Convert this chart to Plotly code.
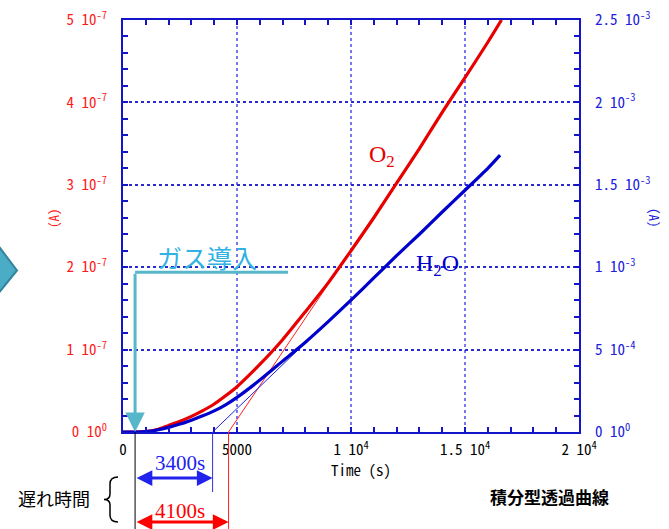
import plotly.graph_objects as go

# ---------------- data ----------------
time_o2 = [0, 500, 1000, 1500, 2000, 2500, 3000, 3500, 4000, 4500, 5000, 6000, 7000,
           8000, 9000, 10000, 11000, 12000, 13000, 14000, 15000, 16000, 16600]
o2_current = [0, 0, 0.005e-7, 0.03e-7, 0.08e-7, 0.13e-7, 0.19e-7, 0.26e-7, 0.34e-7, 0.44e-7,
              0.55e-7, 0.82e-7, 1.12e-7, 1.46e-7, 1.81e-7, 2.2e-7, 2.6e-7, 3.02e-7, 3.44e-7,
              3.88e-7, 4.3e-7, 4.73e-7, 5.0e-7]

time_h2o = [0, 500, 1000, 1500, 2000, 2500, 3000, 3500, 4000, 4500, 5000, 6000, 7000,
            8000, 9000, 10000, 11000, 12000, 13000, 14000, 15000, 16000, 16540]
h2o_current = [0, 0, 0.002e-3, 0.012e-3, 0.028e-3, 0.048e-3, 0.072e-3, 0.098e-3, 0.128e-3,
               0.165e-3, 0.21e-3, 0.315e-3, 0.43e-3, 0.545e-3, 0.67e-3, 0.80e-3, 0.935e-3,
               1.07e-3, 1.20e-3, 1.335e-3, 1.467e-3, 1.60e-3, 1.68e-3]

# tangent (asymptote) lines
o2_tangent_t = [4630, 10800]
o2_tangent_v = [0, 2.53e-7]
h2o_tangent_t = [3930, 10000]
h2o_tangent_v = [0, 0.807e-3]

t_gas = 530          # gas introduction time (s)
lag_h2o = 3400       # s
lag_o2 = 4100        # s
gas_level = 1.94e-7  # height of the gas-introduction marker (left axis)
gas_end_t = 7240

x_tickvals = [0, 5000, 10000, 15000, 20000]
x_ticktext = ["0", "5000", "1 10<sup>4</sup>", "1.5 10<sup>4</sup>", "2 10<sup>4</sup>"]
y1_tickvals = [0, 1e-7, 2e-7, 3e-7, 4e-7, 5e-7]
y1_ticktext = ["0 10<sup>0</sup>", "1 10<sup>-7</sup>", "2 10<sup>-7</sup>", "3 10<sup>-7</sup>",
               "4 10<sup>-7</sup>", "5 10<sup>-7</sup>"]
y2_tickvals = [0, 5e-4, 1e-3, 1.5e-3, 2e-3, 2.5e-3]
y2_ticktext = ["0 10<sup>0</sup>", "5 10<sup>-4</sup>", "1 10<sup>-3</sup>", "1.5 10<sup>-3</sup>",
               "2 10<sup>-3</sup>", "2.5 10<sup>-3</sup>"]

# ---------------- layout geometry (pixels) ----------------
W, H = 669, 529
L, R, T, B = 123, 579, 20, 432


def px(x):
    return (x - L) / (R - L)


def py(y):
    return (B - y) / (B - T)


RED = "#E80000"
BLUE = "#0000CC"
AXBLUE = "#1414C8"
TEAL = "#56B6CA"
CYAN = "#31B2E2"
MONO = "Noto Sans Mono CJK JP, Liberation Mono, monospace"
SERIF = "Liberation Serif, Times New Roman, serif"
CJK = "Noto Sans CJK JP, sans-serif"

fig = go.Figure()

fig.add_trace(go.Scatter(x=o2_tangent_t, y=o2_tangent_v, mode="lines",
                         line=dict(color="#FF2020", width=1), yaxis="y", hoverinfo="skip"))
fig.add_trace(go.Scatter(x=h2o_tangent_t, y=h2o_tangent_v, mode="lines",
                         line=dict(color="#2020E0", width=1), yaxis="y2", hoverinfo="skip"))
fig.add_trace(go.Scatter(x=time_o2, y=o2_current, mode="lines", name="O2",
                         line=dict(color=RED, width=3.2, shape="spline", smoothing=0.6), yaxis="y"))
fig.add_trace(go.Scatter(x=time_h2o, y=h2o_current, mode="lines", name="H2O",
                         line=dict(color=BLUE, width=3.2, shape="spline", smoothing=0.6), yaxis="y2"))

fig.update_layout(
    width=W, height=H,
    margin=dict(l=L, r=W - R, t=T, b=H - B, pad=0, autoexpand=False),
    paper_bgcolor="white", plot_bgcolor="white",
    showlegend=False,
    xaxis=dict(
        range=[0, 20000], tickmode="array", tickvals=x_tickvals, ticktext=x_ticktext,
        tickfont=dict(family=MONO, size=15, color="black"), automargin=False,
        ticks="inside", ticklen=5, tickwidth=1.5, tickcolor=AXBLUE,
        showline=True, linecolor=AXBLUE, linewidth=2, mirror="ticks",
        showgrid=True, gridcolor="#7878EE", griddash="dot", gridwidth=1.5,
        zeroline=False, ticklabelstandoff=3,
        minor=dict(tickmode="linear", tick0=0, dtick=1000, ticks="inside", ticklen=5,
                   tickwidth=1.5, tickcolor=AXBLUE, showgrid=False),
    ),
    yaxis=dict(
        range=[0, 5e-7], tickmode="array", tickvals=y1_tickvals, ticktext=y1_ticktext,
        tickfont=dict(family=MONO, size=15, color="#FF1A1A"), automargin=False,
        ticks="inside", ticklen=5, tickwidth=1.5, tickcolor=AXBLUE,
        showline=True, linecolor=AXBLUE, linewidth=2, mirror=True,
        showgrid=True, gridcolor="#2A2AD0", griddash="dot", gridwidth=1.5,
        zeroline=False, ticklabelstandoff=11,
        minor=dict(tickmode="linear", tick0=0, dtick=2e-8, ticks="inside", ticklen=5,
                   tickwidth=1.5, tickcolor=AXBLUE, showgrid=False),
    ),
    yaxis2=dict(
        range=[0, 2.5e-3], overlaying="y", side="right", tickmode="array",
        tickvals=y2_tickvals, ticktext=y2_ticktext, automargin=False,
        tickfont=dict(family=MONO, size=15, color="#2020DD"),
        ticks="inside", ticklen=5, tickwidth=1.5, tickcolor=AXBLUE,
        showline=True, linecolor=AXBLUE, linewidth=2,
        showgrid=False, zeroline=False, ticklabelstandoff=11,
        minor=dict(tickmode="linear", tick0=0, dtick=1e-4, ticks="inside", ticklen=5,
                   tickwidth=1.5, tickcolor=AXBLUE, showgrid=False),
    ),
)

shapes = []
annotations = []


def label(x, y, text, font, **kw):
    d = dict(xref="paper", yref="paper", x=px(x), y=py(y), text=text, showarrow=False,
             xanchor="center", yanchor="middle", font=font)
    d.update(kw)
    annotations.append(d)


# axis titles
label(361, 469, "Time (s)", dict(family=MONO, size=15, color="black"))
label(53, 218, "(A)", dict(family=MONO, size=13, color="#FF1A1A"), textangle=-90)
label(655, 218, "(A)", dict(family=MONO, size=13, color="#2020DD"), textangle=90)

# curve labels
label(382, 156, "O<sub>2</sub>", dict(family=SERIF, size=24, color=RED))
label(437, 265, "H<sub>2</sub>O", dict(family=SERIF, size=24, color=BLUE))

# gas introduction marker
shapes.append(dict(type="line", xref="x", yref="y", x0=t_gas, x1=gas_end_t,
                   y0=gas_level, y1=gas_level, line=dict(color=TEAL, width=3)))
annotations.append(dict(xref="x", yref="y", x=t_gas, y=0, axref="x", ayref="y",
                         ax=t_gas, ay=gas_level, text="", showarrow=True,
                         arrowhead=2, arrowsize=1.3, arrowwidth=3, arrowcolor=TEAL,
                         standoff=0, startstandoff=0))
label(207, 257, "ガス導入", dict(family=CJK, size=25, color=CYAN))

# lag-time markers below the axis
shapes.append(dict(type="line", xref="x", yref="paper", x0=t_gas, x1=t_gas,
                   y0=0, y1=py(H + 2), line=dict(color="black", width=1)))
shapes.append(dict(type="line", xref="x", yref="paper", x0=t_gas + lag_h2o, x1=t_gas + lag_h2o,
                   y0=0, y1=py(492), line=dict(color="#3030E0", width=1)))
shapes.append(dict(type="line", xref="x", yref="paper", x0=t_gas + lag_o2, x1=t_gas + lag_o2,
                   y0=0, y1=py(H + 2), line=dict(color="#FF2020", width=1)))

annotations.append(dict(xref="x", yref="paper", x=t_gas + lag_h2o, y=py(478),
                         axref="x", ayref="pixel", ax=t_gas, ay=0, text="", showarrow=True,
                         arrowside="end+start", arrowhead=2, arrowsize=1.05, arrowwidth=3,
                         arrowcolor="#2222EE", standoff=0, startstandoff=0))
annotations.append(dict(xref="x", yref="paper", x=t_gas + lag_o2, y=py(522),
                         axref="x", ayref="pixel", ax=t_gas, ay=0, text="", showarrow=True,
                         arrowside="end+start", arrowhead=2, arrowsize=1.05, arrowwidth=3,
                         arrowcolor="#FF0000", standoff=0, startstandoff=0))
label(180, 463, "3400s", dict(family=SERIF, size=21, color="#2222EE"))
label(180, 511, "4100s", dict(family=SERIF, size=21, color="#FF0000"))

label(54, 498, "遅れ時間", dict(family=CJK, size=18, color="black"))
label(549, 496, "<b>積分型透過曲線</b>", dict(family=CJK, size=17, color="black"))


# brace
def P(x, y):
    return f"{px(x):.5f},{py(y):.5f}"


brace = (f"M {P(118, 477)} Q {P(110, 477)} {P(110, 484)} L {P(110, 494)} "
         f"Q {P(110, 499.5)} {P(104, 499.5)} Q {P(110, 499.5)} {P(110, 505)} "
         f"L {P(110, 515)} Q {P(110, 522)} {P(118, 522)}")
shapes.append(dict(type="path", xref="paper", yref="paper", path=brace,
                   line=dict(color="black", width=1.5)))

# teal arrow tip at left edge
tip = f"M {P(-3, 244)} L {P(17, 270.5)} L {P(-3, 295)} Z"
shapes.append(dict(type="path", xref="paper", yref="paper", path=tip,
                   fillcolor="#4BACC6", line=dict(color="#31859C", width=2)))

fig.update_layout(shapes=shapes, annotations=annotations)

fig.write_html("out.html", config={"displayModeBar": False},
               post_script="document.body.style.margin='0';document.body.style.overflow='hidden';")
